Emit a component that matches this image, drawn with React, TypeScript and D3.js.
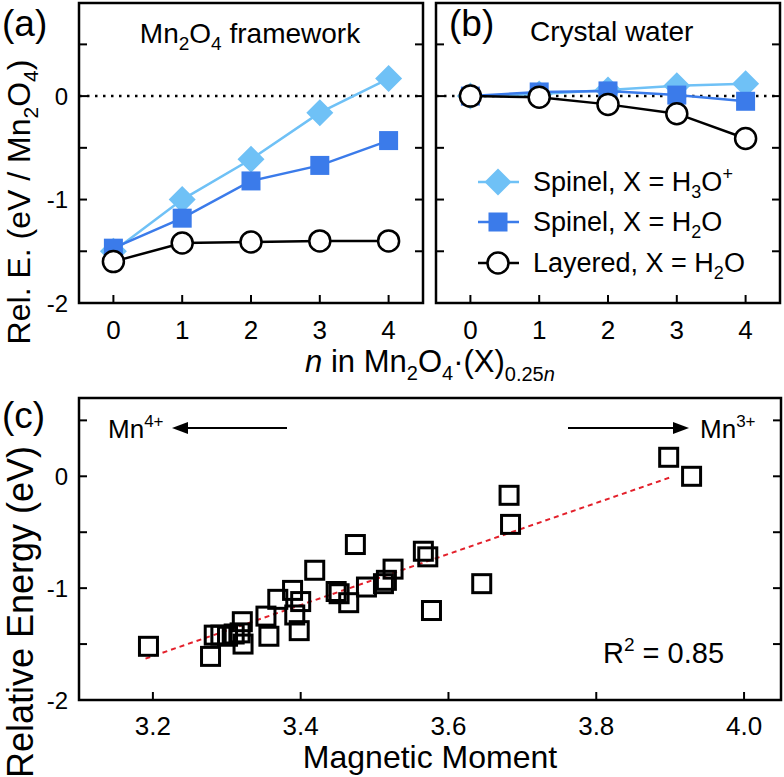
import React from "react";
import * as d3 from "d3";

// ---------- data ----------
const nValues = [0, 1, 2, 3, 4];
const frameSpinelH3O = [-1.5, -1.0, -0.61, -0.16, 0.17];
const frameSpinelH2O = [-1.47, -1.18, -0.82, -0.67, -0.43];
const frameLayered = [-1.6, -1.42, -1.41, -1.4, -1.4];
const waterSpinelH3O = [0, 0.02, 0.06, 0.1, 0.12];
const waterSpinelH2O = [0, 0.04, 0.05, 0.01, -0.05];
const waterLayered = [0, -0.01, -0.08, -0.17, -0.41];

const magMoment = [
  3.194, 3.278, 3.283, 3.292, 3.301, 3.31, 3.318, 3.321, 3.322, 3.353, 3.357,
  3.369, 3.389, 3.392, 3.398, 3.4, 3.419, 3.474, 3.448, 3.452, 3.465, 3.489,
  3.512, 3.516, 3.525, 3.566, 3.572, 3.577, 3.645, 3.682, 3.684, 3.898, 3.929,
];
const relEnergy = [
  -1.52, -1.61, -1.42, -1.42, -1.43, -1.41, -1.4, -1.3, -1.5, -1.25, -1.43,
  -1.1, -1.02, -1.24, -1.38, -1.12, -0.84, -0.61, -1.03, -1.05, -1.13, -0.99,
  -0.96, -0.93, -0.83, -0.67, -0.72, -1.2, -0.96, -0.17, -0.43, 0.17, 0.0,
];
const fitX = [3.19, 3.9];
const fitY = [-1.63, -0.01];

const yTicksAB = [-2, -1.5, -1, -0.5, 0, 0.5];
const yLabelsAB = [-2, -1, 0];
const yTicksC = [-2, -1.5, -1, -0.5, 0, 0.5];
const yLabelsC = [-2, -1, 0];
const xTicksC = [3.2, 3.4, 3.6, 3.8, 4.0];

const LIGHT = "#6FC1F6";
const BLUE = "#3B7BEA";
const FONT = "'Liberation Sans', Arial, Helvetica, sans-serif";

// ---------- scales ----------
const yAB = d3.scaleLinear().domain([-2, 0.9]).range([303, 3]);
const xA = d3.scaleLinear().domain([-0.5, 4.5]).range([79, 423]);
const xB = d3.scaleLinear().domain([-0.5, 4.5]).range([436, 780]);
const xC = d3.scaleLinear().domain([3.1, 4.05]).range([79, 781]);
const yC = d3.scaleLinear().domain([-2, 0.7]).range([700, 398]);

const TL = 8; // tick length

function diamondPath(cx: number, cy: number, r: number) {
  return `M${cx},${cy - r}L${cx + r},${cy}L${cx},${cy + r}L${cx - r},${cy}Z`;
}

function Series({
  x,
  vals,
  kind,
}: {
  x: d3.ScaleLinear<number, number>;
  vals: number[];
  kind: "diamond" | "square" | "circle";
}) {
  const line = d3
    .line<number>()
    .x((_, i) => x(nValues[i]))
    .y((d) => yAB(d));
  const color = kind === "diamond" ? LIGHT : kind === "square" ? BLUE : "#000";
  return (
    <g>
      <path d={line(vals) || ""} fill="none" stroke={color} strokeWidth={2.5} />
      {vals.map((v, i) => {
        const cx = x(nValues[i]);
        const cy = yAB(v);
        if (kind === "diamond")
          return <path key={i} d={diamondPath(cx, cy, 13.5)} fill={LIGHT} />;
        if (kind === "square")
          return <rect key={i} x={cx - 9.5} y={cy - 9.5} width={19} height={19} fill={BLUE} />;
        return (
          <circle key={i} cx={cx} cy={cy} r={10.5} fill="#fff" stroke="#000" strokeWidth={2.5} />
        );
      })}
    </g>
  );
}

function PanelFrame({
  x,
  showYLabels,
}: {
  x: d3.ScaleLinear<number, number>;
  showYLabels: boolean;
}) {
  const [x0, x1] = x.range();
  const [yb, yt] = yAB.range();
  return (
    <g>
      {yTicksAB.map((t) => (
        <g key={t}>
          <line x1={x0} x2={x0 + TL} y1={yAB(t)} y2={yAB(t)} stroke="#000" strokeWidth={2} />
          <line x1={x1} x2={x1 - TL} y1={yAB(t)} y2={yAB(t)} stroke="#000" strokeWidth={2} />
        </g>
      ))}
      {nValues.map((t) => (
        <g key={t}>
          <line x1={x(t)} x2={x(t)} y1={yb} y2={yb - TL} stroke="#000" strokeWidth={2} />
          <text x={x(t)} y={339} textAnchor="middle" fontSize={26}>
            {t}
          </text>
        </g>
      ))}
      {showYLabels &&
        yLabelsAB.map((t) => (
          <text key={t} x={68} y={yAB(t) + 8.5} textAnchor="end" fontSize={24}>
            {t}
          </text>
        ))}
      <line
        x1={x0}
        x2={x1}
        y1={yAB(0)}
        y2={yAB(0)}
        stroke="#000"
        strokeWidth={2.5}
        strokeDasharray="2.5,5.5"
      />
      <rect x={x0} y={yt} width={x1 - x0} height={yb - yt} fill="none" stroke="#000" strokeWidth={2.5} />
    </g>
  );
}

function Arrow({ x1, x2, y }: { x1: number; x2: number; y: number }) {
  const dir = Math.sign(x2 - x1);
  const hl = 16;
  const hw = 6;
  return (
    <g>
      <line x1={x1} x2={x2 - dir * hl} y1={y} y2={y} stroke="#000" strokeWidth={2} />
      <path d={`M${x2},${y}L${x2 - dir * hl},${y - hw}L${x2 - dir * hl},${y + hw}Z`} fill="#000" />
    </g>
  );
}

export default function App() {
  const fitLine = d3
    .line<number>()
    .x((d) => xC(d))
    .y((_, i) => yC(fitY[i]));
  const legendRows = [
    { y: 182, kind: "diamond" },
    { y: 222, kind: "square" },
    { y: 263, kind: "circle" },
  ];
  return (
    <svg
      width={784}
      height={777}
      style={{ position: "absolute", left: 0, top: 0, background: "#fff" }}
      fontFamily={FONT}
    >
      <rect x={0} y={0} width={784} height={777} fill="#fff" />

      {/* Panel (a) */}
      <PanelFrame x={xA} showYLabels={true} />
      <Series x={xA} vals={frameSpinelH3O} kind="diamond" />
      <Series x={xA} vals={frameSpinelH2O} kind="square" />
      <Series x={xA} vals={frameLayered} kind="circle" />
      <text x={2} y={36} fontSize={37}>(a)</text>
      <text x={250} y={43} fontSize={28} textAnchor="middle">
        Mn<tspan fontSize={19} dy={7}>2</tspan>
        <tspan dy={-7}>O</tspan>
        <tspan fontSize={19} dy={7}>4</tspan>
        <tspan dy={-7}> framework</tspan>
      </text>

      {/* Panel (b) */}
      <PanelFrame x={xB} showYLabels={false} />
      <Series x={xB} vals={waterSpinelH3O} kind="diamond" />
      <Series x={xB} vals={waterSpinelH2O} kind="square" />
      <Series x={xB} vals={waterLayered} kind="circle" />
      <text x={449} y={36} fontSize={37}>(b)</text>
      <text x={530} y={41} fontSize={28}>Crystal water</text>

      {/* Legend */}
      {legendRows.map((r) => {
        const color = r.kind === "diamond" ? LIGHT : r.kind === "square" ? BLUE : "#000";
        return (
          <g key={r.kind}>
            <line x1={478} x2={519} y1={r.y} y2={r.y} stroke={color} strokeWidth={2.5} />
            {r.kind === "diamond" && <path d={diamondPath(498, r.y, 13.5)} fill={LIGHT} />}
            {r.kind === "square" && <rect x={488.5} y={r.y - 9.5} width={19} height={19} fill={BLUE} />}
            {r.kind === "circle" && (
              <circle cx={498} cy={r.y} r={10.5} fill="#fff" stroke="#000" strokeWidth={2.5} />
            )}
          </g>
        );
      })}
      <text x={533} y={191} fontSize={27}>
        Spinel, X = H<tspan fontSize={18} dy={7}>3</tspan>
        <tspan dy={-7}>O</tspan>
        <tspan fontSize={18} dy={-11}>+</tspan>
      </text>
      <text x={533} y={231} fontSize={27}>
        Spinel, X = H<tspan fontSize={18} dy={7}>2</tspan>
        <tspan dy={-7}>O</tspan>
      </text>
      <text x={533} y={272} fontSize={27}>
        Layered, X = H<tspan fontSize={18} dy={7}>2</tspan>
        <tspan dy={-7}>O</tspan>
      </text>

      {/* Shared axis labels for (a),(b) */}
      <text
        transform={`translate(30,202) rotate(-90)`}
        textAnchor="middle"
        fontSize={32}
      >
        Rel. E. (eV / Mn<tspan fontSize={21} dy={8}>2</tspan>
        <tspan dy={-8}>O</tspan>
        <tspan fontSize={21} dy={8}>4</tspan>
        <tspan dy={-8}>)</tspan>
      </text>
      <text x={430} y={372} textAnchor="middle" fontSize={31}>
        <tspan fontStyle="italic">n</tspan> in Mn<tspan fontSize={20} dy={8}>2</tspan>
        <tspan dy={-8}>O</tspan>
        <tspan fontSize={20} dy={8}>4</tspan>
        <tspan dy={-8}>·(X)</tspan>
        <tspan fontSize={20} dy={9}>0.25</tspan>
        <tspan fontSize={20} fontStyle="italic">n</tspan>
      </text>

      {/* Panel (c) */}
      {yTicksC.map((t) => (
        <g key={t}>
          <line x1={79} x2={79 + TL} y1={yC(t)} y2={yC(t)} stroke="#000" strokeWidth={2} />
          <line x1={781} x2={781 - TL} y1={yC(t)} y2={yC(t)} stroke="#000" strokeWidth={2} />
        </g>
      ))}
      {yLabelsC.map((t) => (
        <text key={t} x={68} y={yC(t) + 8.5} textAnchor="end" fontSize={24}>
          {t}
        </text>
      ))}
      {xTicksC.map((t) => (
        <g key={t}>
          <line x1={xC(t)} x2={xC(t)} y1={700} y2={700 - TL} stroke="#000" strokeWidth={2} />
          <text x={xC(t)} y={735} textAnchor="middle" fontSize={26}>
            {t.toFixed(1)}
          </text>
        </g>
      ))}
      <path
        d={fitLine(fitX) || ""}
        fill="none"
        stroke="#E3202B"
        strokeWidth={2}
        strokeDasharray="5,4"
      />
      {magMoment.map((m, i) => (
        <rect
          key={i}
          x={xC(m) - 9}
          y={yC(relEnergy[i]) - 9}
          width={18}
          height={18}
          fill="none"
          stroke="#000"
          strokeWidth={3}
        />
      ))}
      <rect x={79} y={398} width={702} height={302} fill="none" stroke="#000" strokeWidth={2.5} />
      <text x={2} y={428} fontSize={37}>(c)</text>
      <Arrow x1={287} x2={172} y={428} />
      <Arrow x1={568} x2={689} y={428} />
      <text x={108} y={438} fontSize={26}>
        Mn<tspan fontSize={17} dy={-11}>4+</tspan>
      </text>
      <text x={700} y={438} fontSize={26}>
        Mn<tspan fontSize={17} dy={-11}>3+</tspan>
      </text>
      <text x={603} y={663} fontSize={29}>
        R<tspan fontSize={19} dy={-12}>2</tspan>
        <tspan dy={12}> = 0.85</tspan>
      </text>
      <text
        transform={`translate(33,612) rotate(-90)`}
        textAnchor="middle"
        fontSize={36}
      >
        Relative Energy (eV)
      </text>
      <text x={430} y={768} textAnchor="middle" fontSize={32}>
        Magnetic Moment
      </text>
    </svg>
  );
}
